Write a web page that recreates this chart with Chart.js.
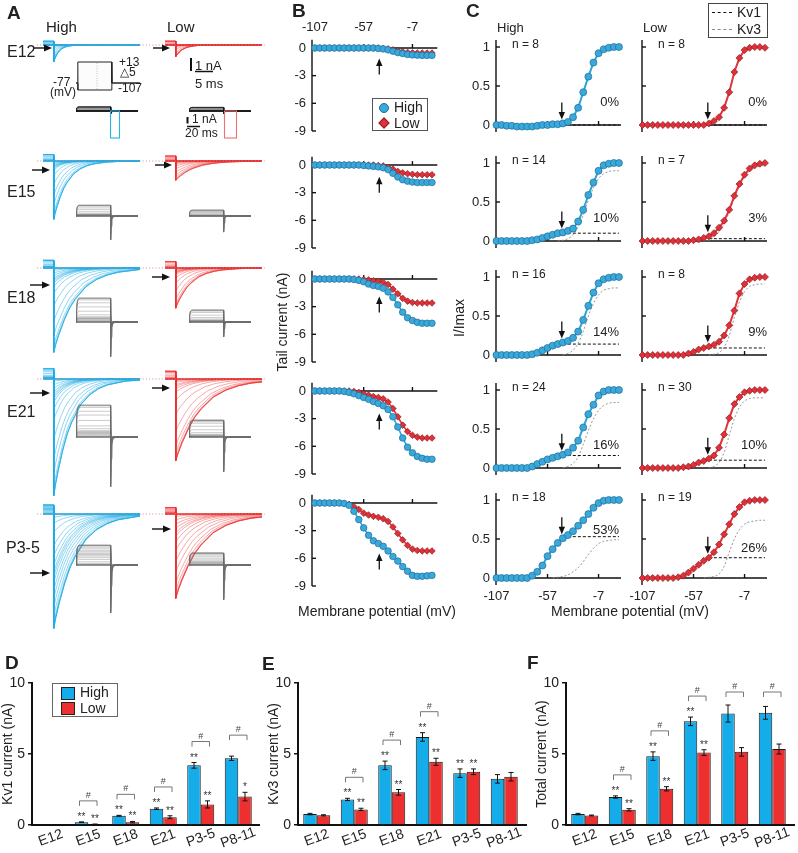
<!DOCTYPE html>
<html><head><meta charset="utf-8">
<script src="https://cdn.jsdelivr.net/npm/chart.js@4.4.1/dist/chart.umd.min.js"></script>
<style>
body{margin:0;background:#fff;}
#page{position:relative;width:798px;height:853px;overflow:hidden;font-family:'Liberation Sans',Arial,sans-serif;color:#222;background:#fff;}
canvas{position:absolute;}
.t{position:absolute;white-space:nowrap;line-height:1;z-index:5;}
svg{position:absolute;left:0;top:0;z-index:4;}
</style></head><body><div id="page"></div>
<script>
// ---------------- DATA ----------------
const V = [-107,-102,-97,-92,-87,-82,-77,-72,-67,-62,-57,-52,-47,-42,-37,-32,-27,-22,-17,-12,-7,-2,3,8,13];
const ages = ['E12','E15','E18','E21','P3-5'];
const bXTicks = [-107,-57,-7];
const bYTicks = [0,-3,-6,-9];
const cYTicks = [1,0.5,0];

// Panel B: tail current (nA)
const tailHighE12 = [0,0,0,0,0,0,0,0,0,0,0,0,0,-0.05,-0.1,-0.2,-0.35,-0.5,-0.6,-0.7,-0.75,-0.78,-0.8,-0.8,-0.8];
const tailLowE12  = [0,0,0,0,0,0,0,0,0,0,0,0,0,0,-0.05,-0.1,-0.2,-0.3,-0.4,-0.48,-0.52,-0.55,-0.55,-0.55,-0.55];
const tailHighE15 = [0,0,0,0,0,0,0,0,0,0,-0.05,-0.1,-0.15,-0.2,-0.3,-0.5,-0.9,-1.3,-1.6,-1.75,-1.85,-1.9,-1.9,-1.9,-1.9];
const tailLowE15  = [0,0,0,0,0,0,0,0,0,0,0,0,0,-0.05,-0.1,-0.25,-0.45,-0.7,-0.85,-0.95,-1.0,-1.05,-1.05,-1.05,-1.05];
const tailHighE18 = [0,0,0,0,0,0,0,0,-0.05,-0.15,-0.3,-0.55,-0.7,-0.8,-1.0,-1.4,-2.0,-2.8,-3.6,-4.2,-4.5,-4.7,-4.8,-4.8,-4.8];
const tailLowE18  = [0,0,0,0,0,0,0,0,0,0,-0.05,-0.1,-0.2,-0.25,-0.35,-0.6,-1.1,-1.6,-2.1,-2.4,-2.55,-2.6,-2.6,-2.6,-2.6];
const tailHighE21 = [0,0,0,0,0,0,-0.05,-0.15,-0.3,-0.5,-0.7,-0.9,-1.15,-1.35,-1.6,-2.0,-2.8,-3.9,-5.1,-6.1,-6.7,-7.1,-7.3,-7.4,-7.4];
const tailLowE21  = [0,0,0,0,0,0,0,0,-0.05,-0.15,-0.3,-0.45,-0.6,-0.7,-0.85,-1.2,-1.9,-2.8,-3.7,-4.4,-4.8,-5.0,-5.1,-5.1,-5.1];
const tailHighP35 = [0,0,0,0,0,0,-0.05,-0.25,-0.9,-1.8,-2.7,-3.5,-4.1,-4.4,-4.7,-5.2,-5.8,-6.3,-6.9,-7.4,-7.85,-7.95,-7.95,-7.9,-7.85];
const tailLowP35  = [0,0,0,0,0,0,-0.05,-0.15,-0.4,-0.7,-1.1,-1.3,-1.45,-1.55,-1.7,-2.0,-2.6,-3.3,-4.0,-4.6,-5.0,-5.15,-5.2,-5.2,-5.2];

// Panel C: I/Imax
const cHighE12 = [0,0,-0.01,-0.01,-0.02,-0.02,-0.02,-0.02,-0.01,0,0,0.01,0.01,0.02,0.04,0.1,0.22,0.42,0.62,0.8,0.92,0.97,0.99,1,1];
const cLowE12  = [0,0,0,0,0,0,0,0,0,0,0,0,0,0.02,0.05,0.1,0.22,0.42,0.68,0.86,0.96,0.99,1,1,0.99];
const cHighE15 = [0,0,0,0,0,0,0,0.01,0.02,0.04,0.06,0.08,0.1,0.11,0.13,0.16,0.25,0.4,0.59,0.75,0.9,0.97,0.99,1,1];
const cLowE15  = [0,0,0,0,0,0,0,0,0,0,0.01,0.02,0.04,0.06,0.1,0.17,0.26,0.4,0.58,0.73,0.85,0.93,0.97,0.99,1];
const cHighE18 = [0,0,0,0,0,0,0,0.01,0.03,0.06,0.09,0.12,0.14,0.16,0.18,0.22,0.3,0.45,0.63,0.8,0.92,0.97,0.99,1,1];
const cLowE18  = [0,0,0,0,0,0,0,0,0,0.02,0.04,0.07,0.09,0.11,0.13,0.17,0.25,0.38,0.57,0.79,0.91,0.97,0.99,1,1];
const cHighE21 = [0,0,0,0,0,0,0,0.02,0.05,0.08,0.11,0.13,0.15,0.17,0.2,0.26,0.35,0.52,0.69,0.81,0.93,0.98,1,1,1];
const cLowE21  = [0,0,0,0,0,0,0,0,0.01,0.02,0.04,0.07,0.09,0.12,0.16,0.26,0.43,0.64,0.82,0.91,0.97,0.99,1,1,1];
const cHighP35 = [0,0,0,0,0,0,0,0.03,0.08,0.16,0.28,0.37,0.45,0.51,0.55,0.6,0.67,0.74,0.82,0.9,0.96,0.99,1,1,1];
const cLowP35  = [0,0,0,0,0,0,0,0.01,0.03,0.07,0.12,0.17,0.22,0.26,0.33,0.43,0.56,0.69,0.82,0.91,0.97,0.99,1,1,1];

// Kv3 component (gray dashed)
const kv3HighE15 = [null,null,null,null,null,null,null,null,null,null,null,null,0,0.01,0.03,0.08,0.18,0.33,0.52,0.68,0.8,0.86,0.89,0.9,0.9];
const kv3LowE15  = [null,null,null,null,null,null,null,null,null,null,null,null,0,0.01,0.05,0.12,0.22,0.37,0.55,0.7,0.82,0.9,0.94,0.96,0.97];
const kv3HighE18 = [null,null,null,null,null,null,null,null,null,null,null,null,null,0,0.02,0.06,0.15,0.3,0.5,0.66,0.77,0.83,0.85,0.86,0.86];
const kv3LowE18  = [null,null,null,null,null,null,null,null,null,null,null,null,null,0,0.01,0.03,0.1,0.25,0.48,0.68,0.81,0.88,0.9,0.91,0.91];
const kv3HighE21 = [null,null,null,null,null,null,null,null,null,null,null,null,null,0,0.02,0.06,0.14,0.3,0.48,0.63,0.74,0.8,0.83,0.84,0.84];
const kv3LowE21  = [null,null,null,null,null,null,null,null,null,null,null,null,null,0,0.02,0.07,0.2,0.42,0.63,0.78,0.86,0.89,0.9,0.9,0.9];
const kv3HighP35 = [null,null,null,null,null,null,null,null,null,null,null,0,0.01,0.02,0.04,0.08,0.13,0.21,0.3,0.38,0.44,0.47,0.48,0.49,0.49];
const kv3LowP35  = [null,null,null,null,null,null,null,null,null,null,null,null,0,0.01,0.02,0.05,0.15,0.33,0.5,0.62,0.69,0.72,0.73,0.74,0.74];

const kv1FracHigh = [0,0.10,0.14,0.16,0.53];
const kv1FracLow  = [0,0.03,0.09,0.10,0.26];
const pctHigh = ['0%','10%','14%','16%','53%'];
const pctLow  = ['0%','3%','9%','10%','26%'];
const nHigh = [8,14,16,24,18];
const nLow  = [8,7,8,30,19];

// Panel A: representative cells
const aPeakHigh = [1.3,4.5,6.5,9.0,8.8];   // nA, largest tail
const aPeakLow  = [0.9,1.5,3.1,6.3,6.5];
const aPreHigh  = [0.3,0.5,0.6,0.8,0.7];   // nA, end-of-step level
const aPreLow   = [0.3,0.4,0.5,0.6,0.5];
const aTauHigh  = [1.5,3.7,6,5,6];         // ms
const aTauLow   = [2,5,4.3,7,7];
const tailT     = [0,0.1,0.25,0.5,0.75,1,1.5,2,2.5,3,4,5,6.5,8];
const tailShape = [1,0.9,0.78,0.61,0.47,0.37,0.22,0.135,0.082,0.05,0.018,0.007,0.0015,0];
const grayPHigh = [0.7,1.8,4.0,5.3,3.3];   // nA plateau of outward current
const grayTHigh = [0.5,4.0,5.8,8.3,8.0];   // nA tail spike
const grayPLow  = [0.6,1.0,2.0,2.8,2.0];
const grayTLow  = [0.5,2.7,2.5,5.8,5.8];
const grayT      = [0,1.5,4,8,15,30,60,95,95.01,96,98,101,106,115,170];
const grayPlateau= [0,0.6,0.9,1,1,1,1,1,0,0,0,0,0,0,0];
const grayTail   = [0,0,0,0,0,0,0,0,1,0.45,0.16,0.05,0.01,0,0];
const protoHold = -77, protoDur = 93;

// Panels D-F
const barCats = ['E12','E15','E18','E21','P3-5','P8-11'];
const kv1CurHigh = [0,0.2,0.65,1.15,4.2,4.7];
const kv1CurHighErr = [0,0.02,0.03,0.05,0.2,0.15];
const kv1CurLow = [0,0.05,0.2,0.55,1.45,2.0];
const kv1CurLowErr = [0,0.02,0.05,0.1,0.25,0.3];
const kv3CurHigh = [0.77,1.8,4.2,6.2,3.65,3.25];
const kv3CurHighErr = [0.05,0.08,0.3,0.3,0.3,0.3];
const kv3CurLow = [0.68,1.1,2.3,4.45,3.75,3.4];
const kv3CurLowErr = [0.04,0.08,0.2,0.25,0.2,0.3];
const totCurHigh = [0.77,1.97,4.85,7.3,7.85,7.9];
const totCurHighErr = [0.05,0.08,0.3,0.3,0.6,0.45];
const totCurLow = [0.67,1.07,2.55,5.1,5.15,5.35];
const totCurLowErr = [0.03,0.08,0.15,0.2,0.3,0.35];
const starsD = [['','**','**','**','**',''],['','**','**','**','**','*']];
const hashD  = [0,1,1,1,1,1];
const starsE = [['','**','**','**','**',''],['','**','**','**','**','']];
const hashE  = [0,1,1,1,0,0];
const starsF = [['','**','**','**','',''],['','**','**','**','','']];
const hashF  = [0,1,1,1,1,1];

const tailHighRows = [tailHighE12,tailHighE15,tailHighE18,tailHighE21,tailHighP35];
const tailLowRows  = [tailLowE12,tailLowE15,tailLowE18,tailLowE21,tailLowP35];
const cHighRows = [cHighE12,cHighE15,cHighE18,cHighE21,cHighP35];
const cLowRows  = [cLowE12,cLowE15,cLowE18,cLowE21,cLowP35];
const kv3HighRows = [null,kv3HighE15,kv3HighE18,kv3HighE21,kv3HighP35];
const kv3LowRows  = [null,kv3LowE15,kv3LowE18,kv3LowE21,kv3LowP35];

// ---------------- LAYOUT / STYLE ----------------
const FONT = "'Liberation Sans', Arial, sans-serif";
const BLUE_L='#2AA6DD', BLUE_F='#3AA8DA', BLUE_E='#1E6E98';
const RED_L='#E3333A', RED_F='#E0313A', RED_E='#8F1C20';
const BAR_B='#14ADEA', BAR_R='#EE2F2F';
const bZero = [48,165,279,391,503];
const cZero = [125,241,355,468,578];
const aBase = [45,161,268,379,514];
const gBase = [111,216,322,437,565];

Chart.defaults.font.family = FONT;
Chart.defaults.color = '#222';
Chart.defaults.animation = false;
Chart.defaults.responsive = false;
Chart.defaults.maintainAspectRatio = false;
Chart.defaults.devicePixelRatio = 1;
Chart.defaults.plugins.legend.display = false;
Chart.defaults.plugins.tooltip.enabled = false;
Chart.defaults.events = [];

const page = document.getElementById('page');
function mkCanvas(l,t,w,h){const c=document.createElement('canvas');c.width=w;c.height=h;
  c.style.left=l+'px';c.style.top=t+'px';c.style.width=w+'px';c.style.height=h+'px';page.appendChild(c);return c;}
function txt(s,x,y,o={}){const d=document.createElement('div');d.className='t';d.textContent=s;
  d.style.fontSize=(o.size||13)+'px'; if(o.bold) d.style.fontWeight='bold'; if(o.color) d.style.color=o.color;
  d.style.left=x+'px'; d.style.top=y+'px';
  const ax=o.align==='r'?'-100%':o.align==='c'?'-50%':'0';
  d.style.transform=o.rot?`translate(-50%,-50%) rotate(${o.rot}deg)`:`translate(${ax},-50%)`;
  page.appendChild(d);return d;}
const pts = arr => V.map((v,i)=>({x:v,y:arr[i]}));

// ---------------- PLUGINS ----------------
const sciAxes = {
  id:'sciAxes',
  beforeDatasetsDraw(chart,args,o){
    if(!o||!o.on) return;
    const {ctx,chartArea:a,scales:{x,y}}=chart;
    ctx.save(); ctx.strokeStyle='#111'; ctx.lineWidth=1.4;
    const L=(x1,y1,x2,y2)=>{ctx.beginPath();ctx.moveTo(x1,y1);ctx.lineTo(x2,y2);ctx.stroke();};
    const y0=y.getPixelForValue(0);
    L(a.left,a.top,a.left,a.bottom);
    L(a.left,y0,a.right,y0);
    o.yTicks.forEach(v=>{const p=y.getPixelForValue(v);L(a.left,p,a.left+4,p);});
    o.xTicks.forEach(v=>{const p=x.getPixelForValue(v);L(p,y0,p,y0-4);});
    ctx.fillStyle='#222'; ctx.font='13px '+FONT;
    if(o.yLabels){ctx.textAlign='right';ctx.textBaseline='middle';
      o.yLabels.forEach(v=>ctx.fillText(String(v),a.left-6,y.getPixelForValue(v)));}
    if(o.xLabels){ctx.textAlign='center';ctx.textBaseline='middle';
      const yy=o.xLabelPos==='top'?a.top-12:a.bottom+11;
      o.xLabels.forEach(v=>ctx.fillText(String(v),x.getPixelForValue(v),yy));}
    ctx.restore();
  },
  afterDatasetsDraw(chart,args,o){
    if(!o||!o.arrow) return;
    const {ctx,scales:{x,y}}=chart; const ar=o.arrow;
    const px=x.getPixelForValue(ar.x), py=y.getPixelForValue(ar.y);
    const s=ar.dir==='up'?1:-1; const tip=py+s*ar.gap, tail=tip+s*ar.len;
    ctx.save(); ctx.strokeStyle='#111'; ctx.fillStyle='#111'; ctx.lineWidth=1.3;
    ctx.beginPath();ctx.moveTo(px,tail);ctx.lineTo(px,tip+s*5);ctx.stroke();
    ctx.beginPath();ctx.moveTo(px,tip);ctx.lineTo(px-3.2,tip+s*7.5);ctx.lineTo(px+3.2,tip+s*7.5);ctx.closePath();ctx.fill();
    ctx.restore();
  }
};
const barMarks = {
  id:'barMarks',
  afterDatasetsDraw(chart,args,o){
    if(!o||!o.on) return;
    const {ctx,chartArea:a,scales:{x,y}}=chart;
    const L=(x1,y1,x2,y2)=>{ctx.beginPath();ctx.moveTo(x1,y1);ctx.lineTo(x2,y2);ctx.stroke();};
    ctx.save();
    ctx.strokeStyle='#111'; ctx.lineWidth=2; L(a.right,a.bottom,a.right+o.ext,a.bottom);
    const tops=[[],[]];
    [0,1].forEach(di=>{
      const meta=chart.getDatasetMeta(di), ds=chart.data.datasets[di];
      meta.data.forEach((bar,i)=>{
        const v=ds.data[i], e=ds.err[i];
        const yt=y.getPixelForValue(v+e), yb=y.getPixelForValue(Math.max(0,v-e));
        tops[di][i]=yt;
        if(e>0){ctx.strokeStyle='#111';ctx.lineWidth=1;
          L(bar.x,yt,bar.x,yb);L(bar.x-2.5,yt,bar.x+2.5,yt);L(bar.x-2.5,yb,bar.x+2.5,yb);}
        const st=o.stars[di][i];
        if(st){ctx.fillStyle='#333';ctx.font='10px '+FONT;ctx.textAlign='center';ctx.textBaseline='alphabetic';
          ctx.fillText(st,bar.x,yt-2);}
      });
    });
    const m0=chart.getDatasetMeta(0), m1=chart.getDatasetMeta(1);
    o.hash.forEach((h,i)=>{
      if(!h) return;
      const b0=m0.data[i], b1=m1.data[i];
      const yb=Math.max(a.top+9,Math.min(tops[0][i],tops[1][i])-21);
      ctx.strokeStyle='#666';ctx.lineWidth=0.9;
      ctx.beginPath();ctx.moveTo(b0.x-2,yb+5);ctx.lineTo(b0.x-2,yb);ctx.lineTo(b1.x+2,yb);ctx.lineTo(b1.x+2,yb+5);ctx.stroke();
      ctx.fillStyle='#444';ctx.font='9px '+FONT;ctx.textAlign='center';ctx.textBaseline='alphabetic';
      ctx.fillText('#',(b0.x+b1.x)/2,yb-3);
    });
    ctx.fillStyle='#222';ctx.font='14px '+FONT;ctx.textAlign='center';ctx.textBaseline='middle';
    chart.data.labels.forEach((lab,i)=>{const px=x.getPixelForValue(i);
      ctx.save();ctx.translate(px,a.bottom+13);ctx.rotate(-20*Math.PI/180);ctx.fillText(lab,0,0);ctx.restore();});
    ctx.restore();
  }
};
Chart.register(sciAxes,barMarks);

// ---------------- PANEL A ----------------
const aPx = 13;          // px per nA (traces)
const gPx = 6;           // px per nA (gray insets)
function traceData(c,peak,pre,tau){
  const s=tau*(0.6+0.4*Math.max(c,0));
  const d=[{x:-3,y:pre*c},{x:-0.001,y:pre*c}];
  tailT.forEach((t,j)=>d.push({x:t*s,y:-peak*c*tailShape[j]}));
  d.push({x:60,y:0});
  return d;
}
function grayData(c,P,T){
  return grayT.map((t,j)=>({x:t,y:c*(P*grayPlateau[j]-T*grayTail[j])}));
}
function plainChart(cv,datasets,xr,yr){
  return new Chart(cv,{type:'line',data:{datasets},
    options:{layout:{padding:0},elements:{point:{radius:0},line:{tension:0}},
      scales:{x:{type:'linear',min:xr[0],max:xr[1],display:false},y:{type:'linear',min:yr[0],max:yr[1],display:false}}}});
}
ages.forEach((age,r)=>{
  [['h',43,cHighRows[r],aPeakHigh[r],aPreHigh[r],aTauHigh[r],'rgba(30,172,228,0.7)'],
   ['l',165,cLowRows[r],aPeakLow[r],aPreLow[r],aTauLow[r],'rgba(236,48,48,0.6)']].forEach(([k,left,c,peak,pre,tau,col])=>{
    const cv=mkCanvas(left,aBase[r]-12,97,137);
    const ds=c.map(ci=>({data:traceData(ci,peak,pre,tau),borderColor:col,borderWidth:0.7}));
    plainChart(cv,ds,[-3,24],[-125/aPx,12/aPx]);
  });
  [[76,cHighRows[r],grayPHigh[r],grayTHigh[r]],[189,cLowRows[r],grayPLow[r],grayTLow[r]]].forEach(([left,c,P,T])=>{
    const cv=mkCanvas(left,gBase[r]-40,62,100);
    const col=r===0?'rgba(30,30,30,0.6)':'rgba(110,110,110,0.5)';
    const ds=c.map(ci=>({data:grayData(ci,P,T),borderColor:col,borderWidth:0.7}));
    plainChart(cv,ds,[0,170],[-60/gPx,40/gPx]);
  });
});
// voltage protocol inset
{
  const cv=mkCanvas(76,56,64,40);
  const ppm=28/120;
  const ds=V.map(v=>{
    const edge=(v===V[0]||v===V[V.length-1]);
    return {data:[{x:-5,y:protoHold},{x:0,y:protoHold},{x:0,y:v},{x:protoDur,y:v},{x:protoDur,y:protoHold},{x:170,y:protoHold}],
      borderColor:edge?'#222':'rgba(150,150,150,0.1)',borderWidth:edge?1:0.4};
  });
  ds.reverse();
  plainChart(cv,ds,[-5,170],[13+6/ppm-40/ppm,13+6/ppm]);
}

// ---------------- PANEL B ----------------
const ppuB=9.22;
ages.forEach((age,r)=>{
  const zero=bZero[r]; const aTop=zero-0.9*ppuB, aBot=zero+9*ppuB;
  const cl=270, aL=312, aR=438, cw=172;
  const ct=Math.floor(aTop)-24, ch=Math.ceil(aBot)+14-ct;
  const cv=mkCanvas(cl,ct,cw,ch);
  new Chart(cv,{type:'line',
    data:{datasets:[
      {data:pts(tailHighRows[r]),borderColor:BLUE_L,borderWidth:1.6,pointRadius:3.3,pointStyle:'circle',
        pointBackgroundColor:BLUE_F,pointBorderColor:BLUE_E,pointBorderWidth:0.7,clip:false},
      {data:pts(tailLowRows[r]),borderColor:RED_L,borderWidth:1.6,pointRadius:3.3,pointStyle:'rectRot',
        pointBackgroundColor:RED_F,pointBorderColor:RED_E,pointBorderWidth:0.7,clip:false}]},
    options:{layout:{padding:{left:aL-cl,right:cw-(aR-cl),top:aTop-ct,bottom:ch-(aBot-ct)}},
      elements:{line:{tension:0}},
      scales:{x:{type:'linear',min:-110,max:18.5,display:false},y:{type:'linear',min:-9,max:0.9,display:false}},
      plugins:{sciAxes:{on:true,yTicks:[-3,-6,-9],xTicks:[-57,-7],yLabels:bYTicks,
        xLabels:r===0?bXTicks:null,xLabelPos:'top',
        arrow:{x:-41,y:tailHighRows[r][13],dir:'up',gap:10,len:16}}}}});
});

// ---------------- PANEL C ----------------
const ppuC=78;
ages.forEach((age,r)=>{
  const zero=cZero[r]; const aTop=zero-1.09*ppuC, aBot=zero+0.09*ppuC;
  [['h',456,496,cHighRows[r],kv3HighRows[r],kv1FracHigh[r],BLUE_L,BLUE_F,BLUE_E,'circle',true],
   ['l',630,642,cLowRows[r],kv3LowRows[r],kv1FracLow[r],RED_L,RED_F,RED_E,'rectRot',false]].forEach(
   ([k,cl,aL,data,kv3,f1,lc,fc,ec,ps,ylab])=>{
    const aR=aL+125, cw=aR+8-cl;
    const ct=Math.floor(aTop)-10, ch=Math.ceil(aBot)+22-ct;
    const cv=mkCanvas(cl,ct,cw,ch);
    const ds=[{data:pts(data),borderColor:lc,borderWidth:2,pointRadius:3.5,pointStyle:ps,
        pointBackgroundColor:fc,pointBorderColor:ec,pointBorderWidth:0.7,clip:false},
      {data:[{x:-42,y:f1},{x:13,y:f1}],borderColor:'#111',borderWidth:1,borderDash:[3,2],pointRadius:0,clip:false}];
    if(kv3) ds.push({data:pts(kv3),borderColor:'#8a8a8a',borderWidth:0.9,borderDash:[2,2],pointRadius:0,
        cubicInterpolationMode:'monotone',clip:false});
    new Chart(cv,{type:'line',data:{datasets:ds},
      options:{layout:{padding:{left:aL-cl,right:cw-(aR-cl),top:aTop-ct,bottom:ch-(aBot-ct)}},
        elements:{line:{tension:0}},
        scales:{x:{type:'linear',min:-107.5,max:15,display:false},y:{type:'linear',min:-0.09,max:1.09,display:false}},
        plugins:{sciAxes:{on:true,yTicks:[1,0.5],xTicks:[-57,-7],yLabels:ylab?cYTicks:null,
          xLabels:r===4?bXTicks:null,xLabelPos:'bottom',
          arrow:{x:-43,y:data[13],dir:'down',gap:4,len:17}}}}});
  });
});

// ---------------- PANELS D, E, F ----------------
function bars(cl,ct,aL,aR,ext,title,hi,hiE,lo,loE,stars,hash){
  const cw=aR+ext+2-cl;
  const cv=mkCanvas(cl,ct,cw,853-ct);
  new Chart(cv,{type:'bar',
    data:{labels:barCats,datasets:[
      {data:hi,err:hiE,backgroundColor:BAR_B,borderColor:'#1a1a1a',borderWidth:1},
      {data:lo,err:loE,backgroundColor:BAR_R,borderColor:'#1a1a1a',borderWidth:1}]},
    options:{layout:{padding:{left:0,right:cw-(aR-cl),top:683-ct,bottom:0}},
      datasets:{bar:{categoryPercentage:0.72,barPercentage:1}},
      scales:{
        x:{ticks:{display:false},grid:{display:false},border:{display:true,color:'#111',width:2},afterFit(s){s.height=28;}},
        y:{min:0,max:10,ticks:{stepSize:5,font:{size:14},color:'#222',padding:3},
          title:{display:true,text:title,font:{size:14},color:'#222',padding:{top:0,bottom:0}},
          grid:{drawOnChartArea:false,drawTicks:true,tickLength:4,color:'#111',lineWidth:1.5},
          border:{display:true,color:'#111',width:2},afterFit(s){s.width=aL-cl;}}},
      plugins:{barMarks:{on:true,stars,hash,ext}}}});
}
bars(0,668,32,257,3,'Kv1 current (nA)',kv1CurHigh,kv1CurHighErr,kv1CurLow,kv1CurLowErr,starsD,hashD);
bars(266,668,298,523,4,'Kv3 current (nA)',kv3CurHigh,kv3CurHighErr,kv3CurLow,kv3CurLowErr,starsE,hashE);
bars(534,668,566,791,4,'Total current (nA)',totCurHigh,totCurHighErr,totCurLow,totCurLowErr,starsF,hashF);

// ---------------- SVG annotations ----------------
const svgNS='http://www.w3.org/2000/svg';
const svg=document.createElementNS(svgNS,'svg'); svg.setAttribute('width',798); svg.setAttribute('height',853);
page.appendChild(svg);
function el(tag,attrs){const e=document.createElementNS(svgNS,tag);for(const k in attrs)e.setAttribute(k,attrs[k]);svg.appendChild(e);return e;}
function hArrow(x1,x2,y){el('line',{x1,y1:y,x2:x2-6,y2:y,stroke:'#111','stroke-width':1.4});
  el('polygon',{points:`${x2},${y} ${x2-8},${y-3.5} ${x2-8},${y+3.5}`,fill:'#111'});}
aBase.forEach(b=>el('line',{x1:37,y1:b,x2:265,y2:b,stroke:'#c98a8a','stroke-width':0.8,'stroke-dasharray':'1.2 2'}));
[[33,52,48],[153,170,48],[32,50,170],[155,172,165],[30,50,285],[152,170,277],[30,50,393],[152,170,388],[30,50,573],[152,171,529]]
  .forEach(([a,b,y])=>hArrow(a,b,y));
el('line',{x1:97,y1:63,x2:97,y2:89,stroke:'#999','stroke-width':0.6,'stroke-dasharray':'1 1.5'});
el('rect',{x:110.5,y:111,width:9,height:27,fill:'none',stroke:'#27B2E8','stroke-width':1.1});
el('rect',{x:224.5,y:111,width:12,height:27,fill:'none',stroke:'#EE7070','stroke-width':1.1});
el('line',{x1:191,y1:58,x2:191,y2:71,stroke:'#111','stroke-width':2});
el('line',{x1:195,y1:71.5,x2:213,y2:71.5,stroke:'#111','stroke-width':1.5});
el('line',{x1:187.5,y1:117,x2:187.5,y2:123.5,stroke:'#111','stroke-width':2});
el('line',{x1:187,y1:126.5,x2:200,y2:126.5,stroke:'#111','stroke-width':1.5});

// ---------------- TEXT ----------------
txt('A',7,12,{size:19,bold:true}); txt('B',292,10,{size:19,bold:true}); txt('C',466,10,{size:19,bold:true});
txt('D',5,662,{size:19,bold:true}); txt('E',262,663,{size:19,bold:true}); txt('F',527,662,{size:19,bold:true});
txt('High',46,26,{size:15}); txt('Low',167,26,{size:15});
const rowLabY=[52,192,298,412,548];
ages.forEach((a,i)=>txt(a,i===4?6:7,rowLabY[i],{size:16}));
txt('+13',119,62,{size:12}); txt('\u25B35',120,72,{size:12}); txt('-77',53,82,{size:12});
txt('(mV)',50,92,{size:12}); txt('-107',118,88,{size:12});
txt('1 nA',195,65,{size:13}); txt('5 ms',195,83,{size:13});
txt('1 nA',192,119,{size:12}); txt('20 ms',185,133,{size:12});
// B legend & titles
{const d=document.createElement('div');d.style.cssText='position:absolute;left:372px;top:98px;width:54px;height:31px;border:1px solid #555;background:#fff;z-index:5';page.appendChild(d);
 const c1=document.createElement('div');c1.style.cssText=`position:absolute;left:379px;top:103px;width:8px;height:8px;border-radius:50%;background:${BLUE_F};border:0.7px solid ${BLUE_E};z-index:6`;page.appendChild(c1);
 const c2=document.createElement('div');c2.style.cssText=`position:absolute;left:380px;top:119px;width:6px;height:6px;transform:rotate(45deg);background:${RED_F};border:0.7px solid ${RED_E};z-index:6`;page.appendChild(c2);
 txt('High',394,107,{size:14}); txt('Low',394,123,{size:14});}
txt('Tail current (nA)',282,322,{size:14,rot:-90});
txt('Membrane potential (mV)',377,611,{size:14,align:'c'});
txt('I/Imax',459,318,{size:14,rot:-90});
txt('Membrane potential (mV)',630,611,{size:14,align:'c'});
txt('High',497,27,{size:13}); txt('Low',643,27,{size:13});
// C legend
{const d=document.createElement('div');d.style.cssText='position:absolute;left:708px;top:3px;width:58px;height:33px;border:1px solid #444;background:#fff;z-index:5';page.appendChild(d);
 const l1=document.createElement('div');l1.style.cssText='position:absolute;left:712px;top:12px;width:20px;border-top:1px dashed #111;z-index:6';page.appendChild(l1);
 const l2=document.createElement('div');l2.style.cssText='position:absolute;left:712px;top:29px;width:20px;border-top:1px dashed #888;z-index:6';page.appendChild(l2);
 txt('Kv1',737,12,{size:14}); txt('Kv3',737,29,{size:14});}
ages.forEach((a,r)=>{
  txt('n = '+nHigh[r],512,cZero[r]-81,{size:12});
  txt('n = '+nLow[r],658,cZero[r]-81,{size:12});
  txt(pctHigh[r],619,cZero[r]-(r===4?49:24),{size:13,align:'r'});
  txt(pctLow[r],767,cZero[r]-(r===4?31:24),{size:13,align:'r'});
});
// D legend
{const d=document.createElement('div');d.style.cssText='position:absolute;left:52px;top:683px;width:64px;height:32px;border:1px solid #666;background:#fff;z-index:5';page.appendChild(d);
 const b1=document.createElement('div');b1.style.cssText=`position:absolute;left:61px;top:687px;width:12px;height:11px;background:${BAR_B};border:1px solid #222;z-index:6`;page.appendChild(b1);
 const b2=document.createElement('div');b2.style.cssText=`position:absolute;left:61px;top:702px;width:12px;height:11px;background:${BAR_R};border:1px solid #222;z-index:6`;page.appendChild(b2);
 txt('High',80,692,{size:14}); txt('Low',80,708,{size:14});}
</script></body></html>
